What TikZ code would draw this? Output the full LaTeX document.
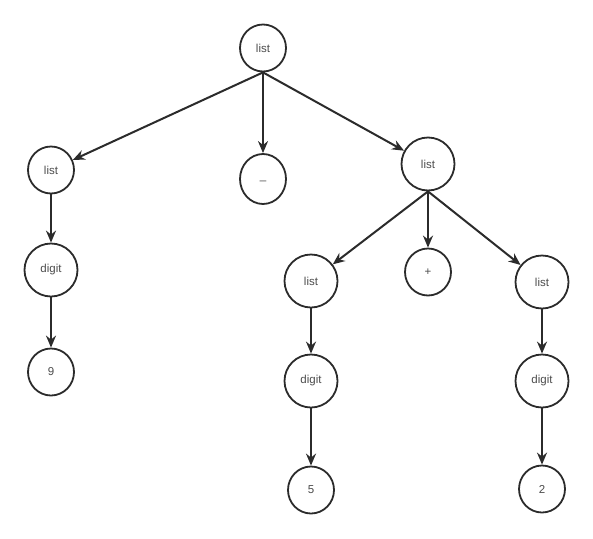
\documentclass[tikz,border=0pt]{standalone}
\usepackage{fontspec}
\setmainfont{Liberation Sans}
\usetikzlibrary{arrows.meta,shapes.geometric}
\definecolor{ink}{HTML}{2B2B2B}
\begin{document}
\begin{tikzpicture}[x=1pt,y=-1pt,line width=2pt,line cap=round,line join=round,>={Stealth[length=12pt,width=10pt]},
	tnode/.style={draw=ink,ellipse,line width=1.8pt,minimum width=46pt,minimum height=47pt,inner sep=0pt,text=ink!85,font=\fontsize{11.5}{13}\selectfont},
	bignode/.style={tnode,minimum width=53pt,minimum height=53pt},
	edge/.style={->,draw=ink}]
	\useasboundingbox (0,0) rectangle (593,538);
	\node[tnode] (root) at (263,48) {list};
	\node[tnode] (l1) at (51,170) {list};
	\node[tnode,minimum height=50pt] (minus) at (263,179) {\raisebox{-0.4ex}{\_}};
	\node[bignode] (l2) at (428,164) {list};
	\node[bignode] (d1) at (51,270) {digit};
	\node[tnode] (n9) at (51,372) {9};
	\node[bignode] (l3) at (311,281) {list};
	\node[tnode] (plus) at (428,272) {+};
	\node[bignode] (l4) at (542,282) {list};
	\node[bignode] (d3) at (311,381) {digit};
	\node[bignode] (d4) at (542,381) {digit};
	\node[tnode] (n5) at (311,490) {5};
	\node[tnode] (n2) at (542,489) {2};
	\draw[edge] (root.south) -- (l1);
	\draw[edge] (root.south) -- (minus.north);
	\draw[edge] (root.south) -- (l2);
	\draw[edge] (l1.south) -- (d1.north);
	\draw[edge] (d1.south) -- (n9.north);
	\draw[edge] (l2.south) -- (l3);
	\draw[edge] (l2.south) -- (plus.north);
	\draw[edge] (l2.south) -- (l4);
	\draw[edge] (l3.south) -- (d3.north);
	\draw[edge] (d3.south) -- (n5.north);
	\draw[edge] (l4.south) -- (d4.north);
	\draw[edge] (d4.south) -- (n2.north);
\end{tikzpicture}
\end{document}
